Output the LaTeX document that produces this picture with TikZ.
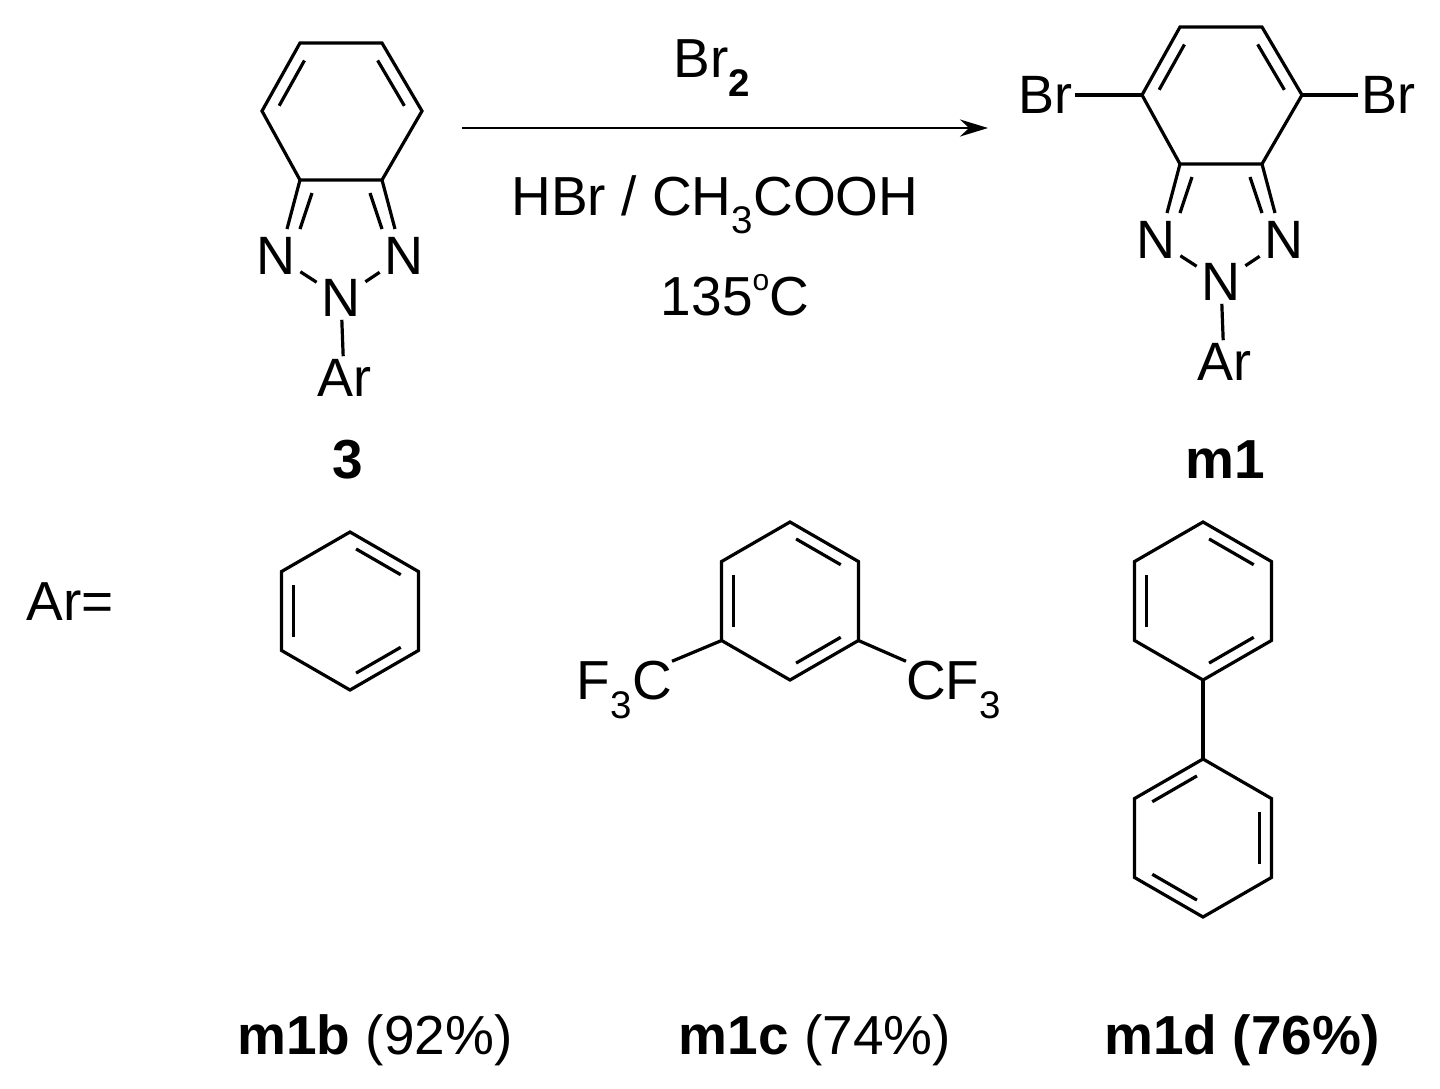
\documentclass[tikz,border=0pt]{standalone}
\usepackage{fontspec}
\setmainfont{Liberation Sans}
\usetikzlibrary{calc,arrows.meta}
\tikzset{
  bond/.style={line width=3.2pt},
  atom/.style={font=\fontsize{54}{54}\selectfont, inner sep=3pt},
  lbl/.style={font=\fontsize{55}{55}\selectfont, inner sep=0pt},
}
\newcommand{\myring}[3]{%
  \foreach \a/\n in {-90/t,-30/ur,30/lr,90/b,150/ll,210/ul}{\coordinate (#1\n) at ($(#2)+(\a:#3)$);}
  \coordinate (#1c) at (#2);
  \draw[bond,line join=miter] (#1t)--(#1ur)--(#1lr)--(#1b)--(#1ll)--(#1ul)--cycle;}
\newcommand{\dbl}[3]{\draw[bond,shorten <=7pt,shorten >=7pt] ($(#2)!0.17!(#1c)$)--($(#3)!0.17!(#1c)$);}
\newcommand{\core}[1]{%
  \coordinate (#1a) at (300,180); \coordinate (#1b) at (262,111);
  \coordinate (#1c) at (300,43);  \coordinate (#1d) at (382,43);
  \coordinate (#1e) at (422,111); \coordinate (#1f) at (382,180);
  \coordinate (#1m) at (341,111);
  \draw[bond,line join=miter] (#1a)--(#1b)--(#1c)--(#1d)--(#1e)--(#1f)--cycle;
  \draw[bond,shorten <=6pt,shorten >=6pt] ($(#1b)!0.18!(#1m)$)--($(#1c)!0.18!(#1m)$);
  \draw[bond,shorten <=6pt,shorten >=6pt] ($(#1d)!0.18!(#1m)$)--($(#1e)!0.18!(#1m)$);
  \node[atom] (#1N1) at (276,256) {N};
  \node[atom] (#1N3) at (404,256) {N};
  \node[atom] (#1N2) at (341,298) {N};
  \node[atom] (#1Ar) at (344,378) {Ar};
  \coordinate (#1p) at (287,229); \coordinate (#1q) at (312,193); \coordinate (#1r) at (300,229);
  \coordinate (#1s) at (395,229); \coordinate (#1u) at (370,193); \coordinate (#1v) at (382,229);
  \draw[bond] (#1a)--(#1p); \draw[bond] (#1q)--(#1r);
  \draw[bond] (#1f)--(#1s); \draw[bond] (#1u)--(#1v);
  \draw[bond,shorten <=2pt,shorten >=2pt] (#1N1)--(#1N2);
  \draw[bond,shorten <=2pt,shorten >=2pt] (#1N3)--(#1N2);
  \draw[bond] (#1N2)--(#1Ar);}
\begin{document}
\begin{tikzpicture}[x=1pt,y=-1pt]
\useasboundingbox (0,0) rectangle (1440,1088);
\fill[white] (0,0) rectangle (1440,1088);
\core{L}
\node[lbl,font=\fontsize{55}{55}\selectfont\bfseries] (lab3) at (348,460) {3};
\begin{scope}[shift={(880,-16)}]
\core{R}
\end{scope}
\node[atom] (BrL) at (1045,95) {Br};
\node[atom] (BrR) at (1388,95) {Br};
\draw[bond] (Rb)--(BrL); \draw[bond] (Re)--(BrR);
\node[lbl,font=\fontsize{55}{55}\selectfont\bfseries] (labm1) at (1225,460) {m1};
\coordinate (A0) at (462,128); \coordinate (A1) at (988,128);
\draw[line width=2.6pt,-{Stealth[length=28pt,width=17pt]}] (A0)--(A1);
\node[lbl] (br2) at (712,68) {Br\textsubscript{\textbf{2}}};
\node[lbl] (hbr) at (715,205) {HBr / CH\textsubscript{3}COOH};
\node[lbl] (temp) at (735,295) {135\raisebox{0.45em}{\fontsize{30}{30}\selectfont o}C};
\node[lbl] (areq) at (70,602) {Ar=};
\coordinate (Bc) at (350,611);
\myring{B}{Bc}{79}
\dbl{B}{Bll}{Bul}\dbl{B}{Bt}{Bur}\dbl{B}{Blr}{Bb}
\coordinate (Cc) at (790,601);
\myring{C}{Cc}{79}
\dbl{C}{Cll}{Cul}\dbl{C}{Ct}{Cur}\dbl{C}{Clr}{Cb}
\node[lbl,anchor=east] (F3C) at (672,690) {F\textsubscript{3}C};
\node[lbl,anchor=west] (CF3) at (906,690) {CF\textsubscript{3}};
\draw[bond] (Cll)--(F3C.north east);
\draw[bond] (Clr)--(CF3.north west);
\coordinate (Dc) at (1203,601);
\myring{D}{Dc}{79}
\dbl{D}{Dll}{Dul}\dbl{D}{Dt}{Dur}\dbl{D}{Dlr}{Db}
\coordinate (Ec) at (1203,838);
\myring{E}{Ec}{79}
\dbl{E}{Eul}{Et}\dbl{E}{Eur}{Elr}\dbl{E}{Eb}{Ell}
\draw[bond] (Db)--(Et);
\node[lbl] (lb) at (375,1040) {\textbf{m1b} (92\%)};
\node[lbl] (lc) at (815,1040) {\textbf{m1c} (74\%)};
\node[lbl] (ld) at (1242,1040) {\textbf{m1d (76\%)}};
\end{tikzpicture}
\end{document}
